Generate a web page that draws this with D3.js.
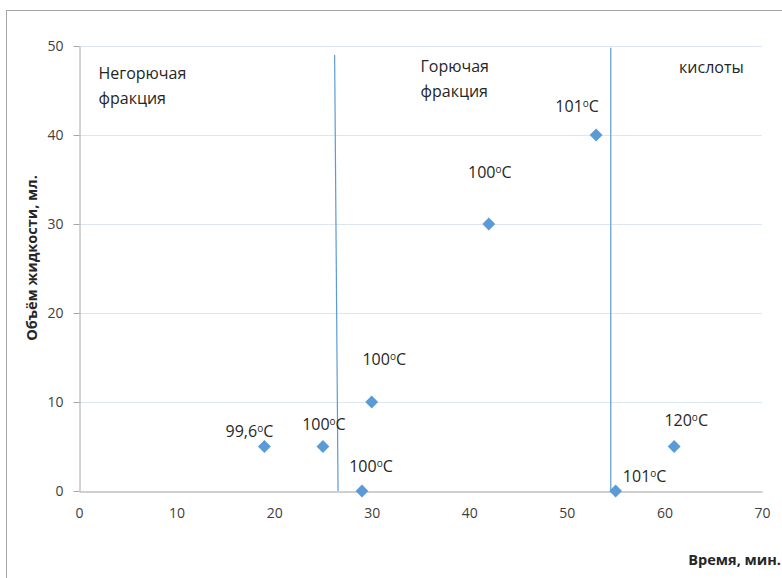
<!DOCTYPE html>
<html><head><meta charset="utf-8">
<script src="https://cdn.jsdelivr.net/npm/d3@7/dist/d3.min.js"></script>
<style>body{margin:0;background:#fff}svg{display:block;font-family:"Open Sans",sans-serif}</style>
</head><body>
<svg id="c" width="782" height="578"></svg>
<script>
const xVals = [19, 25, 29, 30, 42, 53, 55, 61];
const yVals = [5, 5, 0, 10, 30, 40, 0, 5];
const tempLabels = ["99,6", "100", "100", "100", "100", "101", "101", "120"];
const xTicks = [0, 10, 20, 30, 40, 50, 60, 70];
const yTicks = [0, 10, 20, 30, 40, 50];
const dividerLine1 = [[26.55, 0], [26.2, 49]];
const dividerLine2 = [[54.5, 0], [54.5, 49.8]];
const regionNames = [["Негорючая", "фракция"], ["Горючая", "фракция"], ["кислоты"]];
const regionX = [2, 35, 61.5];
const xTitle = "Время, мин.";
const yTitle = "Объём жидкости, мл.";

const FONT = "'Open Sans', sans-serif";
const svg = d3.select("#c");
const M = {l: 79, r: 762, t: 46, b: 491};
const x = d3.scaleLinear().domain([0, 70]).range([M.l, M.r]);
const y = d3.scaleLinear().domain([0, 50]).range([M.b, M.t]);

// outer frame (cropped at right/bottom)
svg.append("rect").attr("x", 6.5).attr("y", 10.5).attr("width", 800).attr("height", 600)
  .attr("fill", "none").attr("stroke", "#a6a6a6");

// gridlines
svg.append("g").selectAll("line").data(yTicks.filter(d => d > 0)).join("line")
  .attr("x1", M.l).attr("x2", M.r).attr("y1", d => y(d) + 0.5).attr("y2", d => y(d) + 0.5)
  .attr("stroke", "#dce6f2").attr("stroke-width", 1);

// y axis
const ya = svg.append("g").attr("transform", `translate(${M.l + 0.5},0)`)
  .call(d3.axisLeft(y).tickValues(yTicks).tickSize(6).tickPadding(10).tickSizeOuter(0));
ya.select(".domain").attr("stroke", "#a6a6a6");
ya.selectAll(".tick line").attr("stroke", "#a6a6a6");
ya.selectAll(".tick text").attr("font-size", 14).attr("fill", "#404040").attr("font-family", FONT);

// x axis
const xa = svg.append("g").attr("transform", `translate(0,${M.b + 0.5})`)
  .call(d3.axisBottom(x).tickValues(xTicks).tickSize(0).tickPadding(17).tickSizeOuter(0));
xa.select(".domain").attr("stroke", "#bfbfbf").attr("stroke-width", 1.5);
xa.selectAll(".tick text").attr("font-size", 14).attr("fill", "#404040").attr("font-family", FONT);

// divider lines
const line = d3.line().x(d => x(d[0])).y(d => y(d[1]));
[dividerLine1, dividerLine2].forEach(dl => {
  svg.append("path").attr("d", line(dl)).attr("fill", "none").attr("stroke", "#5b9bd5").attr("stroke-width", 1.2);
});

// points
const pts = xVals.map((v, i) => ({x: v, y: yVals[i], t: tempLabels[i]}));
svg.append("g").selectAll("path").data(pts).join("path")
  .attr("transform", d => `translate(${x(d.x)},${y(d.y)})`)
  .attr("d", d3.symbol(d3.symbolDiamond2, 105)())
  .attr("fill", "#5b9bd5");

// labels
const labelOffsets = [[-15, -10], [1, -17], [9, -19], [12.5, -37], [1, -46], [-19, -23], [29, -9], [12, -21]];
const lab = svg.append("g").selectAll("text").data(pts).join("text")
  .attr("x", (d, i) => x(d.x) + labelOffsets[i][0])
  .attr("y", (d, i) => y(d.y) + labelOffsets[i][1])
  .attr("text-anchor", "middle").attr("font-size", 16).attr("fill", "#262626");
lab.append("tspan").text(d => d.t);
lab.append("tspan").text("o").attr("font-size", 10).attr("dy", -5);
lab.append("tspan").text("C").attr("dy", 5);

// region names
const regionY = [79, 72, 73];
regionNames.forEach((lines, i) => {
  const t = svg.append("text").attr("font-size", 16).attr("fill", "#262626")
    .attr("x", x(regionX[i])).attr("y", regionY[i]);
  lines.forEach((s, j) => t.append("tspan").attr("x", x(regionX[i])).attr("dy", j === 0 ? 0 : 25).text(s));
});

// axis titles
svg.append("text").attr("x", 781).attr("y", 565).attr("text-anchor", "end")
  .attr("font-size", 14.5).attr("font-weight", "bold").attr("fill", "#262626").text(xTitle);
svg.append("text").attr("transform", "translate(37,258) rotate(-90)").attr("text-anchor", "middle")
  .attr("font-size", 14.5).attr("font-weight", "bold").attr("fill", "#262626").text(yTitle);
</script>
</body></html>
